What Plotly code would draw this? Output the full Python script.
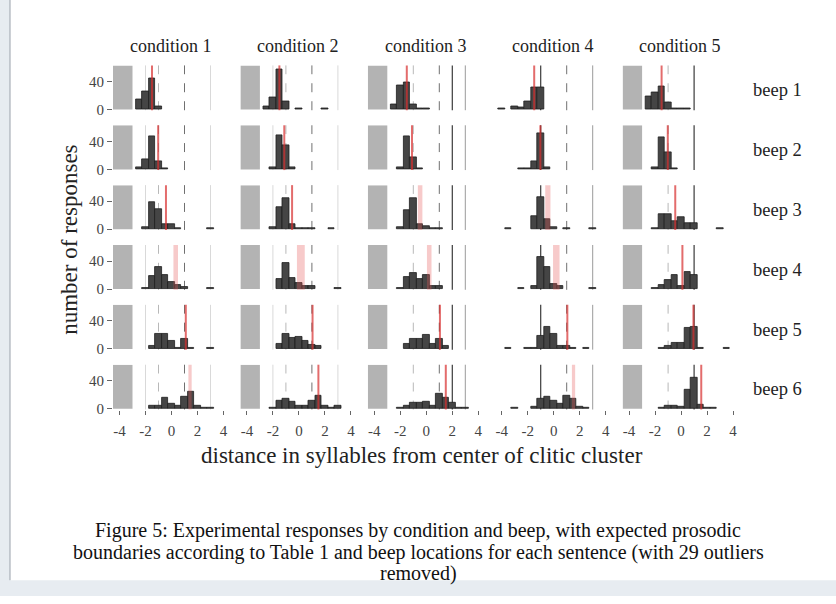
import plotly.graph_objects as go

W, H = 836, 604

CONDITIONS = ["condition 1", "condition 2", "condition 3", "condition 4", "condition 5"]
BEEPS = ["beep 1", "beep 2", "beep 3", "beep 4", "beep 5", "beep 6"]
X_TICKS = [-4, -2, 0, 2, 4]
X_TICK_TEXT = ["-4", "-2", "0", "2", "4"]
Y_TICKS = [0, 40]
Y_TICK_TEXT = ["0", "40"]

BIN_CENTERS = [-4, -3.5, -3, -2.5, -2, -1.5, -1, -0.5, 0, 0.5, 1, 1.5, 2, 2.5, 3, 3.5]

# counts per beep row, one list per condition (aligned with BIN_CENTERS)
COUNTS_BEEP1 = [
    [0, 0, 0, 15, 26, 44, 5, 0, 0, 0, 0, 0, 0, 0, 0, 0],
    [0, 0, 0, 5, 18, 57, 11, 0, 1, 0, 0, 0, 1, 0, 0, 0],
    [0, 0, 0, 8, 34, 39, 8, 1, 1, 0, 0, 0, 0, 0, 0, 0],
    [1, 0, 5, 3, 12, 32, 31, 0, 0, 0, 0, 0, 0, 0, 0, 0],
    [0, 0, 0, 19, 25, 33, 10, 1, 1, 1, 0, 0, 0, 0, 0, 0],
]
COUNTS_BEEP2 = [
    [0, 0, 0, 3, 15, 47, 12, 2, 0, 0, 0, 0, 0, 0, 0, 0],
    [0, 0, 0, 0, 3, 49, 34, 3, 0, 0, 0, 0, 0, 0, 0, 0],
    [0, 0, 0, 0, 3, 47, 18, 2, 0, 0, 0, 0, 0, 0, 0, 0],
    [0, 0, 0, 1, 2, 12, 52, 3, 0, 0, 0, 0, 0, 0, 0, 0],
    [0, 0, 0, 0, 3, 46, 25, 2, 0, 0, 0, 0, 0, 0, 0, 0],
]
COUNTS_BEEP3 = [
    [0, 0, 0, 0, 3, 39, 29, 8, 7, 2, 0, 0, 0, 0, 1, 0],
    [0, 0, 0, 0, 3, 31, 44, 7, 2, 1, 1, 0, 0, 1, 0, 0],
    [0, 0, 0, 0, 3, 27, 44, 8, 5, 2, 2, 0, 0, 0, 0, 0],
    [0, 1, 0, 0, 0, 19, 46, 14, 3, 0, 1, 0, 0, 0, 1, 0],
    [0, 0, 0, 0, 2, 22, 22, 11, 17, 9, 9, 0, 0, 0, 1, 0],
]
COUNTS_BEEP4 = [
    [0, 0, 0, 0, 1, 19, 32, 20, 10, 6, 3, 0, 0, 0, 1, 0],
    [0, 0, 0, 0, 0, 15, 38, 16, 9, 4, 5, 0, 0, 0, 1, 0],
    [0, 0, 0, 0, 1, 18, 23, 15, 20, 4, 4, 0, 0, 0, 0, 0],
    [0, 0, 0, 1, 0, 5, 46, 32, 7, 5, 0, 0, 0, 0, 1, 0],
    [0, 0, 0, 0, 1, 6, 13, 20, 4, 24, 20, 0, 0, 0, 0, 0],
]
COUNTS_BEEP5 = [
    [0, 0, 0, 0, 0, 5, 22, 21, 12, 2, 15, 2, 0, 0, 1, 0],
    [0, 0, 0, 0, 0, 8, 22, 16, 18, 11, 6, 5, 0, 0, 0, 0],
    [0, 0, 0, 0, 0, 8, 14, 15, 20, 8, 15, 5, 0, 0, 0, 0],
    [0, 1, 0, 0, 1, 2, 19, 32, 22, 5, 5, 2, 0, 1, 0, 0],
    [0, 0, 0, 0, 0, 2, 5, 9, 9, 30, 31, 1, 0, 0, 0, 1],
]
COUNTS_BEEP6 = [
    [0, 0, 0, 0, 0, 4, 4, 16, 8, 4, 18, 24, 4, 2, 2, 0],
    [0, 0, 0, 0, 2, 11, 15, 10, 5, 4, 12, 19, 4, 2, 4, 0],
    [0, 0, 0, 0, 1, 4, 9, 9, 10, 4, 22, 16, 9, 2, 1, 0],
    [0, 0, 1, 0, 0, 3, 14, 17, 12, 7, 19, 15, 3, 1, 0, 0],
    [0, 0, 0, 0, 0, 2, 4, 4, 3, 27, 45, 6, 1, 1, 0, 0],
]
COUNTS = [COUNTS_BEEP1, COUNTS_BEEP2, COUNTS_BEEP3, COUNTS_BEEP4, COUNTS_BEEP5, COUNTS_BEEP6]

# beep locations (range over sentences) per beep row, per condition
BEEP_LOC = [
    [(-1.5, -1.5), (-1.5, -1.5), (-1.5, -1.5), (-1.5, -1.5), (-1.5, -1.5)],
    [(-1.05, -1.0), (-1.2, -1.05), (-1.15, -1.05), (-1.05, -1.0), (-1.05, -1.0)],
    [(-0.5, -0.35), (-0.6, -0.45), (-0.65, -0.3), (-0.65, -0.25), (-0.5, -0.4)],
    [(0.15, 0.5), (-0.15, 0.45), (0.05, 0.4), (-0.05, 0.45), (0.05, 0.15)],
    [(1.05, 1.15), (1.0, 1.1), (1.0, 1.1), (1.0, 1.1), (0.9, 1.0)],
    [(1.3, 1.55), (1.45, 1.55), (1.45, 1.55), (1.4, 1.65), (1.5, 1.6)],
]

# expected prosodic boundaries per condition
FAINT_SOLID = [[-2, 3], [-2, 3], [], [], []]
FAINT_DASHED = [[-1], [-1], [-1], [], [-1]]
DARK_DASHED = [[1], [1], [1], [1], []]
MID_SOLID = [[], [], [3], [3], []]
DARK_SOLID = [[], [], [2], [-1], [1]]
# region outside the sentence (shaded)
SHADE = [(-4.5, -3.0), (-4.5, -3.0), (-4.5, -3.0), None, (-4.5, -3.0)]

X_RANGE = [-4.5, 4.7]
Y_RANGE = [-1, 63]

FONT = "Liberation Serif"

# layout in pixels
COL_LEFT0, COL_STEP, COL_W = 113.0, 127.4, 119.6
ROW_TOP0, ROW_STEP, ROW_H = 66.3, 60.66, 45.4


def fx(px):
    return px / W


def fy(py):
    return 1 - py / H


fig = go.Figure()
layout = dict(
    width=W, height=H,
    margin=dict(l=0, r=0, t=0, b=0),
    paper_bgcolor="white", plot_bgcolor="rgba(0,0,0,0)",
    showlegend=False, bargap=0,
    font=dict(family=FONT, color="#222"),
)
shapes = []
annotations = []

# page frame (screenshot border)
shapes.append(dict(type="rect", xref="paper", yref="paper", x0=0, x1=1, y0=0, y1=fy(588),
                   fillcolor="#e7ecf1", line=dict(width=0), layer="below"))
shapes.append(dict(type="rect", xref="paper", yref="paper", x0=0, x1=fx(10), y0=0, y1=1,
                   fillcolor="#e7ecf1", line=dict(width=0), layer="below"))
shapes.append(dict(type="line", xref="paper", yref="paper", x0=fx(10), x1=fx(10), y0=fy(588), y1=1,
                   line=dict(color="#9aa2ab", width=1), layer="below"))

for r in range(6):
    for c in range(5):
        k = r * 5 + c + 1
        xa = "x" if k == 1 else f"x{k}"
        ya = "y" if k == 1 else f"y{k}"
        left = COL_LEFT0 + c * COL_STEP
        top = ROW_TOP0 + r * ROW_STEP
        xdom = [fx(left), fx(left + COL_W)]
        ydom = [fy(top + ROW_H), fy(top)]
        bottom_row = r == 5
        first_col = c == 0
        layout["xaxis" if k == 1 else f"xaxis{k}"] = dict(
            domain=xdom, range=X_RANGE, anchor=ya, showgrid=False, zeroline=False,
            showline=False, fixedrange=True,
            tickmode="array", tickvals=X_TICKS, ticktext=X_TICK_TEXT,
            ticks="outside" if bottom_row else "", ticklen=4, tickwidth=1, tickcolor="#666",
            showticklabels=bottom_row, ticklabelstandoff=3,
            tickfont=dict(family=FONT, size=15, color="#444"),
        )
        layout["yaxis" if k == 1 else f"yaxis{k}"] = dict(
            domain=ydom, range=Y_RANGE, anchor=xa, showgrid=False, zeroline=False,
            showline=False, fixedrange=True,
            tickmode="array", tickvals=Y_TICKS, ticktext=Y_TICK_TEXT,
            ticks="outside" if first_col else "", ticklen=5, tickwidth=1, tickcolor="#666",
            showticklabels=first_col,
            tickfont=dict(family=FONT, size=15, color="#444"),
        )

        counts = COUNTS[r][c]
        xs = [b for b, n in zip(BIN_CENTERS, counts) if n > 0]
        ys = [n for n in counts if n > 0]
        fig.add_trace(go.Bar(
            x=xs, y=ys, width=0.5, xaxis=xa, yaxis=ya,
            marker=dict(color="#454545", line=dict(color="#1e1e1e", width=0.8)),
            hoverinfo="skip",
        ))

        xref = xa
        ydomref = f"{ya} domain"
        if SHADE[c] is not None:
            shapes.append(dict(type="rect", xref=xref, yref=ya, x0=SHADE[c][0], x1=SHADE[c][1],
                               y0=0, y1=Y_RANGE[1], fillcolor="#b3b3b3", line=dict(width=0),
                               layer="below"))

        def vline(xv, color, dash, width=1.0, layer="below"):
            shapes.append(dict(type="line", xref=xref, yref=ydomref, x0=xv, x1=xv, y0=0, y1=1,
                               line=dict(color=color, width=width, dash=dash), layer=layer))

        for xv in FAINT_SOLID[c]:
            vline(xv, "#d9d9d9", "solid")
        for xv in FAINT_DASHED[c]:
            vline(xv, "#b8b8b8", "dash")
        for xv in DARK_DASHED[c]:
            vline(xv, "#707070", "dash")
        for xv in MID_SOLID[c]:
            vline(xv, "#9a9a9a", "solid")
        for xv in DARK_SOLID[c]:
            vline(xv, "#3a3a3a", "solid", width=1.2)

        lo, hi = BEEP_LOC[r][c]
        if hi - lo <= 0.2:
            vline((lo + hi) / 2, "rgba(215,45,45,0.7)", "solid", width=2.0, layer="above")
        else:
            shapes.append(dict(type="rect", xref=xref, yref=ydomref, x0=lo, x1=hi, y0=0, y1=1,
                               fillcolor="rgba(230,90,90,0.32)", line=dict(width=0), layer="above"))

# strip labels
for c, name in enumerate(CONDITIONS):
    cx = COL_LEFT0 + c * COL_STEP + COL_W / 2 - 2
    annotations.append(dict(text=name, x=fx(cx), y=fy(47), xref="paper", yref="paper",
                            showarrow=False, xanchor="center", yanchor="middle",
                            font=dict(family=FONT, size=18, color="#222")))
for r, name in enumerate(BEEPS):
    cy = ROW_TOP0 + r * ROW_STEP + 25
    annotations.append(dict(text=name, x=fx(751), y=fy(cy), xref="paper", yref="paper",
                            showarrow=False, xanchor="left", yanchor="middle",
                            font=dict(family=FONT, size=18.5, color="#222")))

annotations.append(dict(text="number of responses", x=fx(70), y=fy(243), xref="paper", yref="paper",
                        showarrow=False, textangle=-90, xanchor="center", yanchor="middle",
                        font=dict(family=FONT, size=23, color="#222")))
annotations.append(dict(text="distance in syllables from center of clitic cluster", x=fx(422), y=fy(462),
                        xref="paper", yref="paper", showarrow=False, xanchor="center", yanchor="middle",
                        font=dict(family=FONT, size=23, color="#222")))

CAPTION = [
    "Figure 5: Experimental responses by condition and beep, with expected prosodic",
    "boundaries according to Table 1 and beep locations for each sentence (with 29 outliers",
    "removed)",
]
for i, line in enumerate(CAPTION):
    annotations.append(dict(text=line, x=fx(418), y=fy(538 + 21.5 * i), xref="paper", yref="paper",
                            showarrow=False, xanchor="center", yanchor="middle",
                            font=dict(family=FONT, size=20, color="#111")))

layout["shapes"] = shapes
layout["annotations"] = annotations
fig.update_layout(**layout)
fig.write_html("out.html", config={"displayModeBar": False},
               post_script="document.body.style.margin='0px';")
